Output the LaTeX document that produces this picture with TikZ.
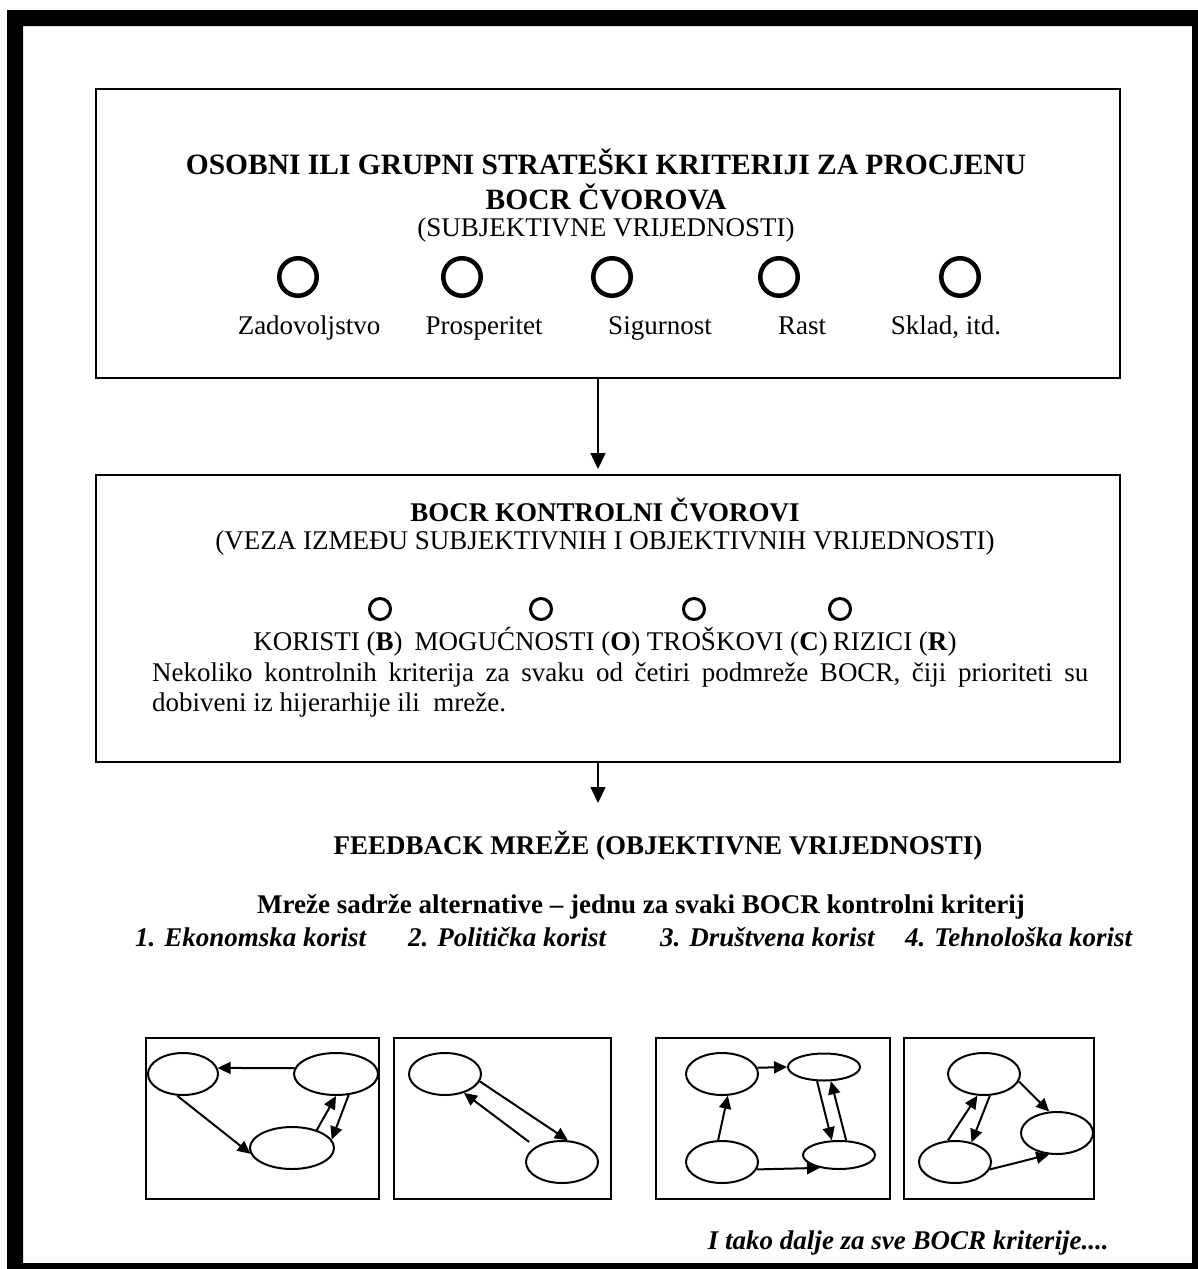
\documentclass[tikz,border=0pt]{standalone}
\usepackage{fontspec}
\setmainfont{Liberation Serif}
\usetikzlibrary{arrows.meta,shapes.geometric}
\newcommand{\velikif}{\fontsize{29.5}{34}\selectfont}
\newcommand{\tekstf}{\fontsize{27}{31}\selectfont}
\begin{document}
\begin{tikzpicture}[x=1pt,y=-1pt,
    >={Triangle[length=13pt,width=12pt]},
    okvir/.style={draw,line width=2pt,inner sep=0pt,minimum width=1024pt},
    krug/.style={circle,draw,line width=4.5pt,minimum size=37.5pt,inner sep=0pt},
    krugic/.style={circle,draw,line width=3pt,minimum size=21pt,inner sep=0pt},
    cvor/.style={ellipse,draw,line width=2pt,inner sep=0pt,minimum width=70pt,minimum height=42pt},
    veza/.style={->,line width=2pt},
    strelica/.style={line width=1.5pt,-{Triangle[length=16pt,width=15pt]}}]
    \useasboundingbox (0,0) rectangle (1198,1269);
    \fill[even odd rule] (7,10) rectangle (1215,1285) (23,26) rectangle (1192,1263);
    \node[okvir,minimum height=289pt] (okvir1) at (608,233.5) {};
    \node[font=\velikif\bfseries] (naslov1) at (606,162) {OSOBNI ILI GRUPNI STRATEŠKI KRITERIJI ZA PROCJENU};
    \node[font=\velikif\bfseries] (naslov2) at (606,197) {BOCR ČVOROVA};
    \node[font=\tekstf] (podnaslov1) at (606,230) {(SUBJEKTIVNE VRIJEDNOSTI)};
    \foreach \x/\ime/\lx/\oznaka in {298/k1/309/Zadovoljstvo, 462/k2/484/Prosperitet, 612/k3/660/Sigurnost, 779/k4/802/Rast, 960/k5/946/{Sklad, itd.}} {
      \node[krug] (\ime) at (\x,277) {};
      \node[font=\tekstf,anchor=base] (l\ime) at (\lx,334) {\oznaka};
    }
    \node[okvir,minimum height=287pt] (okvir2) at (608,618.5) {};
    \draw[strelica,shorten >=5pt] ([xshift=-10pt]okvir1.south) -- ([xshift=-10pt]okvir2.north);
    \node[font=\tekstf\bfseries] (naslov3) at (605,510) {BOCR KONTROLNI ČVOROVI};
    \node[font=\tekstf] (podnaslov2) at (605,543) {(VEZA IZMEĐU SUBJEKTIVNIH I OBJEKTIVNIH VRIJEDNOSTI)};
    \foreach \x/\ime in {380/b, 541/o, 694/c, 840/r} { \node[krugic] (\ime) at (\x,609) {}; }
    \node[font=\tekstf] (bocr) at (605,642) {KORISTI (\textbf{B})\hspace{12pt}MOGUĆNOSTI (\textbf{O}) TROŠKOVI (\textbf{C})\hspace{5pt}RIZICI (\textbf{R})};
    \node[font=\tekstf,anchor=west,inner sep=0pt] (opis1) at (152,675) {\makebox[936pt][s]{Nekoliko kontrolnih kriterija za svaku od četiri podmreže BOCR, čiji prioriteti su}};
    \node[font=\tekstf,anchor=west,inner sep=0pt] (opis2) at (152,705) {dobiveni iz hijerarhije ili\ \ mreže.};
    \coordinate (vrh) at (598,803);
    \draw[strelica] ([xshift=-10pt]okvir2.south) -- (vrh);
    \node[font=\tekstf\bfseries] (feedback) at (658,846) {FEEDBACK MREŽE (OBJEKTIVNE VRIJEDNOSTI)};
    \node[font=\tekstf\bfseries] (sadrze) at (641,907) {Mreže sadrže alternative – jednu za svaki BOCR kontrolni kriterij};
    \foreach \x/\ime/\oznaka in {135/s1/{1. Ekonomska korist}, 408/s2/{2. Politička korist}, 660/s3/{3. Društvena korist}, 905/s4/{4. Tehnološka korist}} {
      \node[font=\tekstf\bfseries\itshape,anchor=west,inner sep=0pt] (\ime) at (\x,937) {\oznaka};
    }
    \foreach \a/\b in {146/379, 394/611, 656/890, 904/1094} { \draw[line width=2.5pt] (\a,1038) rectangle (\b,1199); }
    \node[cvor] (A1) at (183,1074) {};
    \node[cvor,minimum width=84pt] (A2) at (336,1074) {};
    \node[cvor,minimum width=84pt] (A3) at (292,1148) {};
    \draw[veza] (A2.172) -- (A1.10);
    \draw[veza] (A1.255) -- (A3.188);
    \draw[veza] (A3.36) -- (A2.-90);
    \draw[veza] (A2.-59) -- (A3.12);
    \node[cvor,minimum width=72pt] (B1) at (445,1074) {};
    \node[cvor,minimum width=72pt] (B2) at (562,1162) {};
    \draw[veza] (B1.-12) -- (B2.75);
    \draw[veza,shorten <=8pt] (B2.150) -- (B1.-45);
    \node[cvor,minimum width=72pt] (C1) at (722,1074) {};
    \node[cvor,minimum width=72pt,minimum height=27pt] (C2) at (824,1067) {};
    \node[cvor,minimum width=72pt] (C3) at (722,1162) {};
    \node[cvor,minimum width=72pt,minimum height=28pt] (C4) at (839,1155) {};
    \draw[veza] (C1.10) -- (C2.west);
    \draw[veza] (C3.100) -- (C1.-75);
    \draw[veza] (C3.-12) -- (C4.214);
    \draw[veza] (C2.-116) -- (C4.116);
    \draw[veza] (C4.64) -- (C2.-64);
    \node[cvor,minimum width=72pt] (D1) at (984,1074) {};
    \node[cvor,minimum width=72pt] (D2) at (1057,1133) {};
    \node[cvor,minimum width=72pt] (D3) at (955,1162) {};
    \draw[veza] (D1.-12) -- (D2.110);
    \draw[veza] (D3.108) -- (D1.253);
    \draw[veza] (D1.-75) -- (D3.50);
    \draw[veza] (D3.-12) -- (D2.250);
    \node[font=\tekstf\bfseries\itshape,anchor=east] (dalje) at (1112,1243) {I tako dalje za sve BOCR kriterije....};
\end{tikzpicture}
\end{document}
